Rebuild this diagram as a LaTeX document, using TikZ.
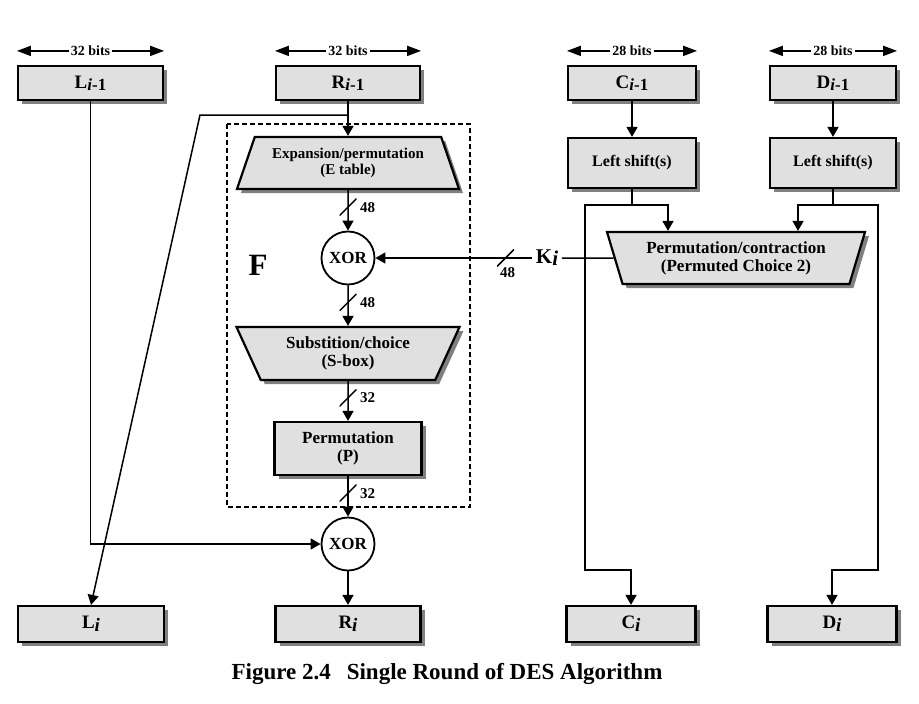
\documentclass[tikz,border=0pt]{standalone}
\usepackage{fontspec}
\setmainfont{Liberation Serif}
\usetikzlibrary{arrows.meta}
\usetikzlibrary{shapes.geometric}
\usetikzlibrary{shadows}
\definecolor{boxgray}{RGB}{224,224,224}

\begin{document}
\begin{tikzpicture}[x=1pt,y=-1pt,>={Triangle[length=10pt,width=11pt]},line width=1.5pt,font=\bfseries]
  \tikzstyle{blk}=[draw=black,line width=2.2pt,fill=boxgray,inner sep=0pt,align=center,
    drop shadow={shadow xshift=4pt,shadow yshift=-4pt,fill=black!50,opacity=1}]
  \tikzstyle{trap}=[blk,trapezium,trapezium stretches body]
  \tikzstyle{xor}=[circle,draw=black,line width=1.8pt,fill=white,inner sep=0pt,minimum size=53pt,
    font=\bfseries\fontsize{17}{19}\selectfont]
  \tikzstyle{slash}=[minimum size=17pt,inner sep=0pt,
    path picture={\draw[-,line width=1.5pt] (path picture bounding box.south west) -- (path picture bounding box.north east);}]
  \tikzstyle{num}=[font=\bfseries\fontsize{15}{16}\selectfont,inner sep=2pt]
  \tikzstyle{span}=[<->,>={Triangle[length=14pt,width=10pt]},line width=1.6pt]
  \tikzstyle{big}=[font=\bfseries\fontsize{19}{22}\selectfont]
  \tikzstyle{mid}=[font=\bfseries\fontsize{17}{18}\selectfont]

  \useasboundingbox (0,0) rectangle (919,704);

  \node[blk,big,minimum width=145pt,minimum height=34pt] (Lp) at (90.5,83) {L\raisebox{-2pt}{\fontsize{17}{18}\selectfont\textit{i}-1}};
  \node[blk,big,minimum width=144pt,minimum height=34pt] (Rp) at (348,83) {R\raisebox{-2pt}{\fontsize{17}{18}\selectfont\textit{i}-1}};
  \node[blk,big,minimum width=128pt,minimum height=34pt] (Cp) at (632,83) {C\raisebox{-2pt}{\fontsize{17}{18}\selectfont\textit{i}-1}};
  \node[blk,big,minimum width=126pt,minimum height=34pt] (Dp) at (833,83) {D\raisebox{-2pt}{\fontsize{17}{18}\selectfont\textit{i}-1}};

  \node[blk,font=\bfseries\fontsize{16}{18}\selectfont,minimum width=128pt,minimum height=50pt] (Cs) at (632,163) {Left shift(s)};
  \node[blk,font=\bfseries\fontsize{16}{18}\selectfont,minimum width=126pt,minimum height=50pt] (Ds) at (833,163) {Left shift(s)};

  \node[trap,font=\bfseries\fontsize{15}{16}\selectfont,minimum width=222pt,minimum height=52pt,trapezium angle=59] (E) at (348,163) {Expansion/permutation\\(E table)};
  \node[xor] (X1) at (348,258) {XOR};
  \node[trap,mid,shape border rotate=180,minimum width=223pt,minimum height=53pt,trapezium angle=54] (S) at (348,353.5) {Substition/choice\\(S-box)};
  \node[blk,mid,minimum width=147pt,minimum height=53pt] (P) at (348,448.5) {Permutation\\(P)};
  \node[xor] (X2) at (348,544) {XOR};

  \node[trap,mid,shape border rotate=180,minimum width=258pt,minimum height=52pt,trapezium angle=65] (PC) at (736,258) {Permutation/contraction\\(Permuted Choice 2)};
  \node[font=\bfseries\fontsize{21}{22}\selectfont,inner sep=3pt] (K) at (547,258) {K\raisebox{-2pt}{\textit{i}}};
  \node[font=\bfseries\fontsize{31}{31}\selectfont] (F) at (258,265) {F};

  \node[blk,big,minimum width=146pt,minimum height=36pt] (Li) at (91,624) {L\raisebox{-3pt}{\textit{i}}};
  \node[blk,big,minimum width=145pt,minimum height=36pt] (Ri) at (348,624) {R\raisebox{-3pt}{\textit{i}}};
  \node[blk,big,minimum width=129pt,minimum height=36pt] (Ci) at (631,624) {C\raisebox{-3pt}{\textit{i}}};
  \node[blk,big,minimum width=129pt,minimum height=36pt] (Di) at (832,624) {D\raisebox{-3pt}{\textit{i}}};

  \draw[dashed,dash pattern=on 5pt off 3pt,line width=1.4pt] (227,124) rectangle (470,507);

  \draw[span] ([yshift=14pt]Lp.north west) -- node[num,fill=white,font=\bfseries\fontsize{14}{15}\selectfont] {32 bits} ([yshift=14pt]Lp.north east);
  \draw[span] ([yshift=14pt]Rp.north west) -- node[num,fill=white,font=\bfseries\fontsize{14}{15}\selectfont] {32 bits} ([yshift=14pt]Rp.north east);
  \draw[span] ([yshift=14pt]Cp.north west) -- node[num,fill=white,font=\bfseries\fontsize{14}{15}\selectfont] {28 bits} ([yshift=14pt]Cp.north east);
  \draw[span] ([yshift=14pt]Dp.north west) -- node[num,fill=white,font=\bfseries\fontsize{14}{15}\selectfont] {28 bits} ([yshift=14pt]Dp.north east);

  \coordinate (r1) at (200,115);
  \coordinate (cl) at (585,205);
  \coordinate (cr) at (668,205);
  \coordinate (cb) at (585,570);
  \coordinate (dl) at (798,205);
  \coordinate (dr) at (878,205);
  \coordinate (db) at (878,570);

  \path[->] (Cp) edge (Cs)
            (Dp) edge (Ds)
            (Rp) edge (E)
            (E)  edge node[slash,pos=0.42,label={[num]right:48}] {} (X1)
            (X1) edge node[slash,pos=0.42,label={[num]right:48}] {} (S)
            (S)  edge node[slash,pos=0.42,label={[num]right:32}] {} (P)
            (P)  edge node[slash,pos=0.42,label={[num]right:32}] {} (X2)
            (X2) edge (Ri);

  \draw[->] (Rp.south) |- (r1) -- (Li.north);
  \draw[->] (Lp.south) |- (X2.west);
  \draw (PC.west) -- (K.east);
  \draw[->] (K.west) -- node[slash,pos=0.17,label={[num,inner sep=0pt,xshift=2pt]below:48}] {} (X1.east);

  \draw[->] (Cs.south) |- (cr) -- (cr |- PC.north);
  \draw[->] (Cs.south) |- (cl) -- (cb) -| (Ci.north);
  \draw[->] (Ds.south) |- (dl) -- (dl |- PC.north);
  \draw[->] (Ds.south) |- (dr) -- (db) -| (Di.north);

  \node[font=\bfseries\fontsize{23}{26}\selectfont] (cap) at (447,674) {Figure 2.4\hspace{16pt}Single Round of DES Algorithm};
\end{tikzpicture}
\end{document}
